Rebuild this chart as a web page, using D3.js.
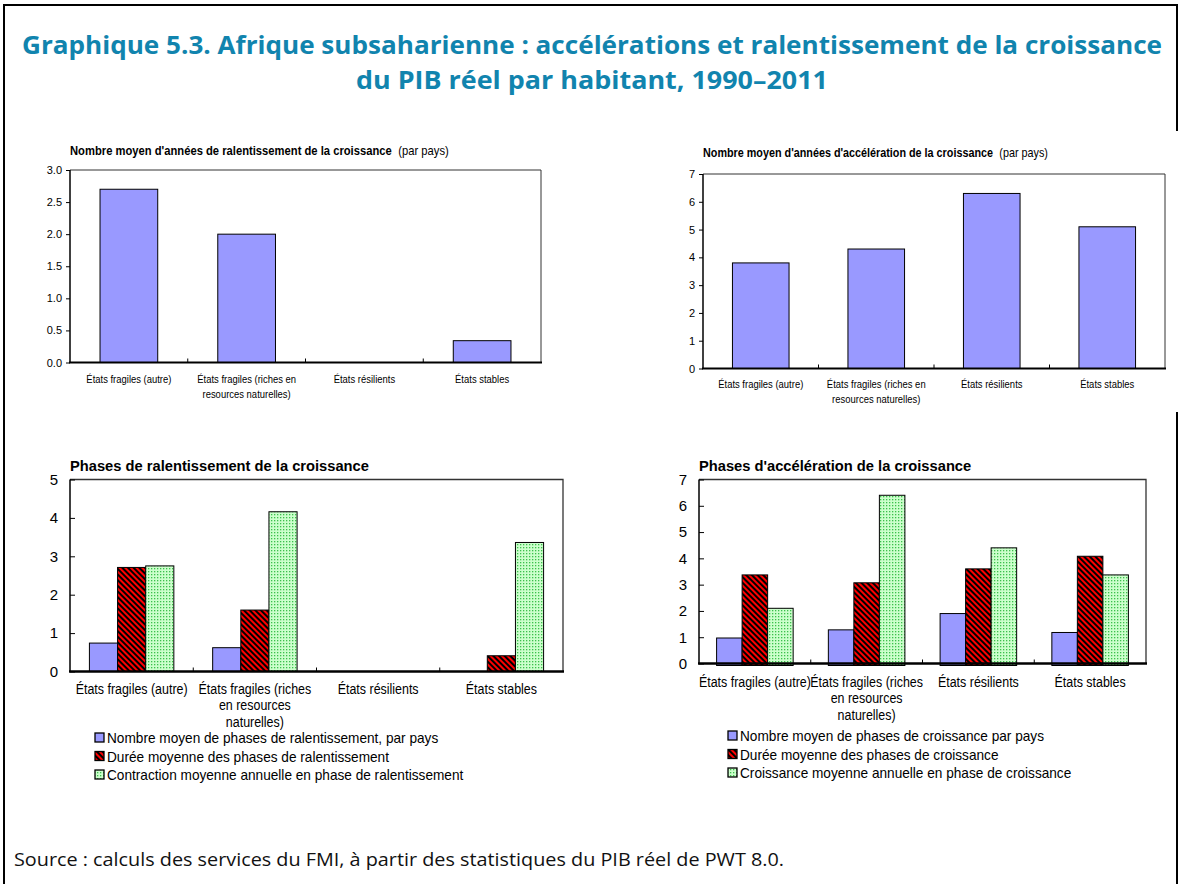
<!DOCTYPE html>
<html>
<head>
<meta charset="utf-8">
<script src="https://cdn.jsdelivr.net/npm/d3@7"></script>
<style>
  body { margin: 0; background: #fff; }
</style>
</head>
<body>
<script>
// data
const topLabels = [
  ['États fragiles (autre)'],
  ['États fragiles  (riches en', 'resources naturelles)'],
  ['États résilients'],
  ['États stables'],
];
const bottomLabels = [
  ['États fragiles (autre)'],
  ['États fragiles  (riches', 'en resources', 'naturelles)'],
  ['États résilients'],
  ['États stables'],
];

const slowdownYears = [2.7, 2.0, 0, 0.34];
const accelYears = [3.8, 4.3, 6.3, 5.1];

const slowdownCount = [0.74, 0.62, 0, 0];
const slowdownDuration = [2.71, 1.6, 0, 0.41];
const slowdownContraction = [2.75, 4.16, 0, 3.36];

const accelCount = [0.97, 1.28, 1.9, 1.18];
const accelDuration = [3.37, 3.07, 3.6, 4.08];
const accelGrowth = [2.1, 6.4, 4.4, 3.37];

const slowdownLegend = [
  'Nombre moyen de phases de ralentissement, par pays',
  'Durée moyenne des phases de ralentissement',
  'Contraction moyenne annuelle en phase de ralentissement',
];
const accelLegend = [
  'Nombre moyen de phases de croissance par pays',
  'Durée moyenne des phases de croissance',
  'Croissance moyenne annuelle en phase de croissance',
];

const sans = '"Liberation Sans", Arial, sans-serif';
const titleFont = '"Open Sans", "Noto Sans", sans-serif';

const svg = d3.select('body').append('svg')
  .attr('width', 1182)
  .attr('height', 884);

// fill patterns
const defs = svg.append('defs');
const hatch = defs.append('pattern')
  .attr('id', 'hatch')
  .attr('patternUnits', 'userSpaceOnUse')
  .attr('width', 4)
  .attr('height', 4)
  .attr('patternTransform', 'rotate(-45)');
hatch.append('rect').attr('width', 4).attr('height', 4).attr('fill', '#ff0000');
hatch.append('rect').attr('width', 2).attr('height', 4).attr('fill', '#000');

const dots = defs.append('pattern')
  .attr('id', 'dots')
  .attr('patternUnits', 'userSpaceOnUse')
  .attr('width', 3)
  .attr('height', 3);
dots.append('rect').attr('width', 3).attr('height', 3).attr('fill', '#ccffcc');
dots.append('rect').attr('x', 1).attr('y', 1).attr('width', 1.3).attr('height', 1.3).attr('fill', '#3cc04c');

const fills = ['#9999ff', 'url(#hatch)', 'url(#dots)'];

// outer frame (right side has a gap in the original)
svg.append('path')
  .attr('d', 'M1177,131 V5 H4 V884 M1177,412 V884')
  .attr('fill', 'none')
  .attr('stroke', '#000')
  .attr('stroke-width', 2);

// main title
const title = svg.append('text')
  .attr('text-anchor', 'middle')
  .style('font-family', titleFont)
  .style('font-weight', 'bold')
  .style('font-size', '25px')
  .attr('fill', '#1184ae');
title.append('tspan').attr('x', 592).attr('y', 54)
  .attr('textLength', 1140).attr('lengthAdjust', 'spacingAndGlyphs')
  .text('Graphique 5.3. Afrique subsaharienne : accélérations et ralentissement de la croissance');
title.append('tspan').attr('x', 592).attr('y', 89)
  .attr('textLength', 472).attr('lengthAdjust', 'spacingAndGlyphs')
  .text('du PIB réel par habitant, 1990–2011');

svg.append('text')
  .attr('x', 14)
  .attr('y', 866)
  .style('font-family', titleFont)
  .style('font-size', '18px')
  .attr('fill', '#111')
  .attr('textLength', 770)
  .attr('lengthAdjust', 'spacingAndGlyphs')
  .text('Source : calculs des services du FMI, à partir des statistiques du PIB réel de PWT 8.0.');

// text squeezed horizontally, like the narrow font of the original
function squeezed(parent, x, y, sx, size) {
  return parent.append('text')
    .attr('transform', `translate(${x},${y}) scale(${sx},1)`)
    .style('font-family', sans)
    .style('font-size', size + 'px')
    .attr('fill', '#000');
}

function drawChart(o) {
  const g = svg.append('g');
  const x = d3.scaleBand()
    .domain(d3.range(o.labels.length))
    .range([o.left, o.right]);
  const y = d3.scaleLinear()
    .domain([0, o.yMax])
    .range([o.bottom, o.top]);
  const inner = d3.scaleBand()
    .domain(d3.range(o.series.length))
    .range([0, x.bandwidth() * o.groupFrac]);
  const offset = (x.bandwidth() - x.bandwidth() * o.groupFrac) / 2;

  // title
  const t = squeezed(g, o.left, o.titleY, o.titleScale, o.titleSize);
  t.append('tspan').style('font-weight', 'bold').text(o.title);
  if (o.subtitle) t.append('tspan').attr('dx', 7).text(o.subtitle);

  // bars
  o.series.forEach((s, si) => {
    g.selectAll(null)
      .data(s.values.map((v, i) => ({ v, i })).filter(d => d.v > 0))
      .enter().append('rect')
      .attr('x', d => x(d.i) + offset + inner(si))
      .attr('width', inner.bandwidth())
      .attr('y', d => y(d.v))
      .attr('height', d => y(0) - y(d.v) + o.barDrop)
      .attr('fill', s.fill)
      .attr('stroke', '#000')
      .attr('stroke-width', 1);
  });

  // frame
  g.append('path')
    .attr('d', `M${o.left},${o.top} H${o.right} V${o.bottom}`)
    .attr('fill', 'none')
    .attr('stroke', '#333')
    .attr('stroke-width', o.frameWidth);

  // y axis
  const yAxis = g.append('g')
    .attr('transform', `translate(${o.left},0)`)
    .call(d3.axisLeft(y)
      .tickValues(d3.range(0, o.yMax + 1e-9, o.yStep))
      .tickFormat(d3.format(o.fmt))
      .tickSize(o.tickSize)
      .tickPadding(o.tickPad));
  yAxis.select('.domain').remove();
  yAxis.selectAll('line').attr('stroke', '#000');
  yAxis.selectAll('text')
    .style('font-family', sans)
    .style('font-size', o.yFont + 'px')
    .attr('fill', '#000');

  g.append('line')
    .attr('x1', o.left).attr('x2', o.left)
    .attr('y1', o.top).attr('y2', o.bottom)
    .attr('stroke', '#000')
    .attr('stroke-width', o.leftWidth);

  // x axis
  g.append('line')
    .attr('x1', o.left - 1).attr('x2', o.right + 1)
    .attr('y1', o.bottom).attr('y2', o.bottom)
    .attr('stroke', '#000')
    .attr('stroke-width', o.axisWidth);
  g.selectAll(null)
    .data(d3.range(1, o.labels.length))
    .enter().append('line')
    .attr('x1', d => x(d)).attr('x2', d => x(d))
    .attr('y1', o.bottom).attr('y2', o.bottom - 4)
    .attr('stroke', '#000');

  o.labels.forEach((lines, i) => {
    const lab = squeezed(g, x(i) + x.bandwidth() / 2, o.labelY, o.xScale, o.xFont)
      .attr('text-anchor', 'middle');
    lines.forEach((line, j) => {
      lab.append('tspan').attr('x', 0).attr('y', j * o.labelGap).text(line);
    });
  });

  // legend
  if (o.legend) {
    o.legend.forEach((name, i) => {
      const ly = o.legendY + i * o.legendGap;
      g.append('rect')
        .attr('x', o.legendX)
        .attr('y', ly - 10)
        .attr('width', 9)
        .attr('height', 9)
        .attr('fill', fills[i])
        .attr('stroke', '#000')
        .attr('stroke-width', 1.3);
      squeezed(g, o.legendX + 12, ly, o.legendScale, o.legendFont)
        .text(name);
    });
  }
}

const topStyle = {
  titleSize: 12, titleScale: 0.935, yFont: 11, xFont: 11, xScale: 0.86,
  tickSize: 4, tickPad: 4,
  groupFrac: 0.49, barDrop: 0, frameWidth: 1, leftWidth: 1.5, axisWidth: 2.2,
  labelGap: 15,
};
const bottomStyle = {
  titleSize: 15, titleScale: 0.98, yFont: 15, xFont: 15, xScale: 0.83,
  tickSize: -5, tickPad: 12,
  groupFrac: 0.685, frameWidth: 1.3, leftWidth: 1.5, axisWidth: 2.5,
  labelGap: 16.5, legendGap: 18.5, legendFont: 14, legendScale: 0.975,
};

drawChart(Object.assign({}, topStyle, {
  left: 70, right: 541, top: 170, bottom: 362.5,
  yMax: 3, yStep: 0.5, fmt: '.1f',
  title: "Nombre moyen d'années de ralentissement de la croissance",
  subtitle: '(par pays)', titleY: 155,
  series: [{ values: slowdownYears, fill: fills[0] }],
  labels: topLabels, labelY: 383,
}));

drawChart(Object.assign({}, topStyle, {
  left: 703, right: 1165, top: 174, bottom: 368.5,
  yMax: 7, yStep: 1, fmt: 'd', titleScale: 0.9,
  title: "Nombre moyen d'années d'accélération de la croissance",
  subtitle: '(par pays)', titleY: 157,
  series: [{ values: accelYears, fill: fills[0] }],
  labels: topLabels, labelY: 388,
}));

drawChart(Object.assign({}, bottomStyle, {
  left: 70, right: 563, top: 479.5, bottom: 671.5,
  yMax: 5, yStep: 1, fmt: 'd', barDrop: 0,
  title: 'Phases de ralentissement de la croissance', titleY: 471,
  series: [
    { values: slowdownCount, fill: fills[0] },
    { values: slowdownDuration, fill: fills[1] },
    { values: slowdownContraction, fill: fills[2] },
  ],
  labels: bottomLabels, labelY: 694,
  legend: slowdownLegend, legendX: 95, legendY: 743,
}));

drawChart(Object.assign({}, bottomStyle, {
  left: 699, right: 1146, top: 479.5, bottom: 663.5,
  yMax: 7, yStep: 1, fmt: 'd', barDrop: 2,
  title: "Phases d'accélération de la croissance", titleY: 471,
  series: [
    { values: accelCount, fill: fills[0] },
    { values: accelDuration, fill: fills[1] },
    { values: accelGrowth, fill: fills[2] },
  ],
  labels: bottomLabels, labelY: 687,
  legend: accelLegend, legendX: 728, legendY: 741,
}));
</script>
</body>
</html>
